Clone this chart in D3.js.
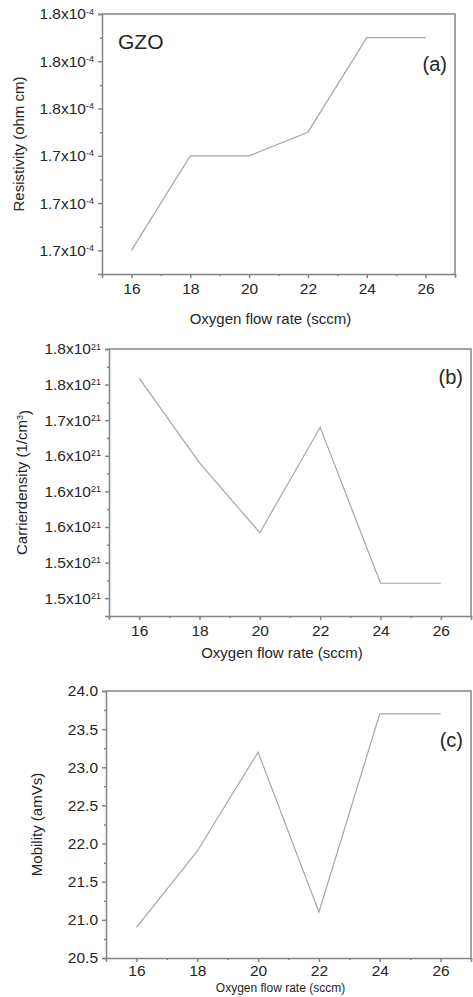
<!DOCTYPE html>
<html>
<head>
<meta charset="utf-8">
<script src="https://cdn.jsdelivr.net/npm/d3@7"></script>
<style>
  body { margin: 0; background: #fff; }
  svg { display: block; font-family: "Liberation Sans", Arial, sans-serif; }
</style>
</head>
<body>
<svg id="chart" width="473" height="997"></svg>
<script>
// shared x values (oxygen flow rate, sccm)
const flowRates = [16, 18, 20, 22, 24, 26];
const xTicks = [16, 18, 20, 22, 24, 26];
const xMinorTicks = [15, 17, 19, 21, 23, 25, 27];

// (a) resistivity, x10^-4 ohm cm
const resistivity = [1.70, 1.74, 1.74, 1.75, 1.79, 1.79];
const resTicks = [1.70, 1.72, 1.74, 1.76, 1.78, 1.80];
const resTickLabels = ["1.7", "1.7", "1.7", "1.8", "1.8", "1.8"];

// (b) carrier density, x10^21 1/cm3
const carrierDensity = [1.759, 1.640, 1.542, 1.690, 1.471, 1.471];
const carTicks = [1.45, 1.50, 1.55, 1.60, 1.65, 1.70, 1.75, 1.80];
const carTickLabels = ["1.5", "1.5", "1.6", "1.6", "1.6", "1.7", "1.8", "1.8"];

// (c) mobility, cm2/Vs
const mobility = [20.9, 21.9, 23.2, 21.1, 23.7, 23.7];
const mobTicks = [20.5, 21.0, 21.5, 22.0, 22.5, 23.0, 23.5, 24.0];
const mobTickLabels = ["20.5", "21.0", "21.5", "22.0", "22.5", "23.0", "23.5", "24.0"];

const svg = d3.select("#chart");
const textColor = "#262626";
const frameColor = "#858585";
const lineColor = "#a6a6a6";

// draws one panel: frame, axes, the line and labels
function drawPanel(p) {
    const x = d3.scaleLinear().domain([15, 27]).range([p.left, p.right]);
    const y = d3.scaleLinear().domain(p.yDomain).range([p.bottom, p.top]);

    const g = svg.append("g");

    // x axis, major + minor
    g.append("g")
        .attr("transform", `translate(0,${p.bottom})`)
        .call(d3.axisBottom(x).tickValues(xTicks).tickSize(4).tickPadding(p.xPad || 5).tickFormat(d3.format("d")));
    g.append("g")
        .attr("transform", `translate(0,${p.bottom})`)
        .call(d3.axisBottom(x).tickValues(xMinorTicks).tickSize(2).tickFormat(""))
        .select(".domain").remove();

    // y axis, major + minor
    const yAxis = g.append("g")
        .attr("transform", `translate(${p.left},0)`)
        .call(d3.axisLeft(y).tickValues(p.yTicks).tickSize(4).tickPadding(4).tickFormat(""));
    const minor = d3.pairs(p.yTicks).map(([a, b]) => (a + b) / 2);
    g.append("g")
        .attr("transform", `translate(${p.left},0)`)
        .call(d3.axisLeft(y).tickValues(minor).tickSize(2).tickFormat(""))
        .select(".domain").remove();

    yAxis.selectAll(".tick text").each(function (d, i) {
        const t = d3.select(this);
        t.text(p.yLabels[i] + (p.exp ? "x10" : ""));
        if (p.exp) {
            t.append("tspan").attr("dy", "-0.55em").attr("font-size", "9px").text(p.exp);
        }
    });

    g.selectAll(".domain, .tick line").attr("stroke", frameColor).attr("stroke-width", 1.5);
    g.selectAll(".tick text").attr("fill", textColor).attr("font-size", "15.5px")
        .attr("font-family", "'Liberation Sans', Arial, sans-serif");

    // closing frame on top and right
    g.append("path")
        .attr("d", `M${p.left},${p.top}H${p.right}V${p.bottom}`)
        .attr("fill", "none")
        .attr("stroke", frameColor)
        .attr("stroke-width", 1.5);

    // data line
    const line = d3.line().x((d, i) => x(flowRates[i])).y(d => y(d));
    g.append("path")
        .datum(p.values)
        .attr("d", line)
        .attr("fill", "none")
        .attr("stroke", lineColor)
        .attr("stroke-width", 1.2);

    // axis titles
    g.append("text")
        .attr("x", (p.left + p.right) / 2 - 8)
        .attr("y", p.xTitleY)
        .attr("text-anchor", "middle")
        .attr("font-size", p.xTitleSize || "15px")
        .attr("fill", textColor)
        .text("Oxygen flow rate (sccm)");

    const yt = g.append("text")
        .attr("transform", `translate(${p.yTitleX},${(p.top + p.bottom) / 2}) rotate(-90)`)
        .attr("text-anchor", "middle")
        .attr("dy", "0.35em")
        .attr("font-size", "15px")
        .attr("fill", textColor);
    yt.append("tspan").text(p.yTitle);
    if (p.yTitleSup) {
        yt.append("tspan").attr("dy", "-0.5em").attr("font-size", "9px").text(p.yTitleSup);
        yt.append("tspan").attr("dy", "0.5em").text(")");
    }

    // panel tag
    g.append("text")
        .attr("x", p.right - 8)
        .attr("y", p.tagY)
        .attr("text-anchor", "end")
        .attr("dy", "0.35em")
        .attr("font-size", "20px")
        .attr("fill", textColor)
        .text(p.tag);

    return g;
}

const ga = drawPanel({
    left: 102, right: 455, top: 14, bottom: 274,
    yDomain: [1.69, 1.80], yTicks: resTicks, yLabels: resTickLabels, exp: "-4",
    values: resistivity,
    xTitleY: 324, yTitleX: 19, yTitle: "Resistivity (ohm cm)",
    tag: "(a)", tagY: 64
});
ga.append("text")
    .attr("x", 118).attr("y", 49)
    .attr("font-size", "21px")
    .attr("fill", textColor)
    .text("GZO");

drawPanel({
    left: 109, right: 471, top: 349, bottom: 616,
    yDomain: [1.425, 1.80], yTicks: carTicks, yLabels: carTickLabels, exp: "21",
    values: carrierDensity,
    xTitleY: 658, yTitleX: 22, yTitle: "Carrierdensity (1/cm", yTitleSup: "3",
    tag: "(b)", tagY: 377
});

drawPanel({
    left: 106, right: 471, top: 691, bottom: 958,
    yDomain: [20.5, 24.0], yTicks: mobTicks, yLabels: mobTickLabels, exp: null,
    values: mobility, xPad: 3,
    xTitleY: 992, xTitleSize: "12px", yTitleX: 37, yTitle: "Mobility (amVs)",
    tag: "(c)", tagY: 740
});
</script>
</body>
</html>
